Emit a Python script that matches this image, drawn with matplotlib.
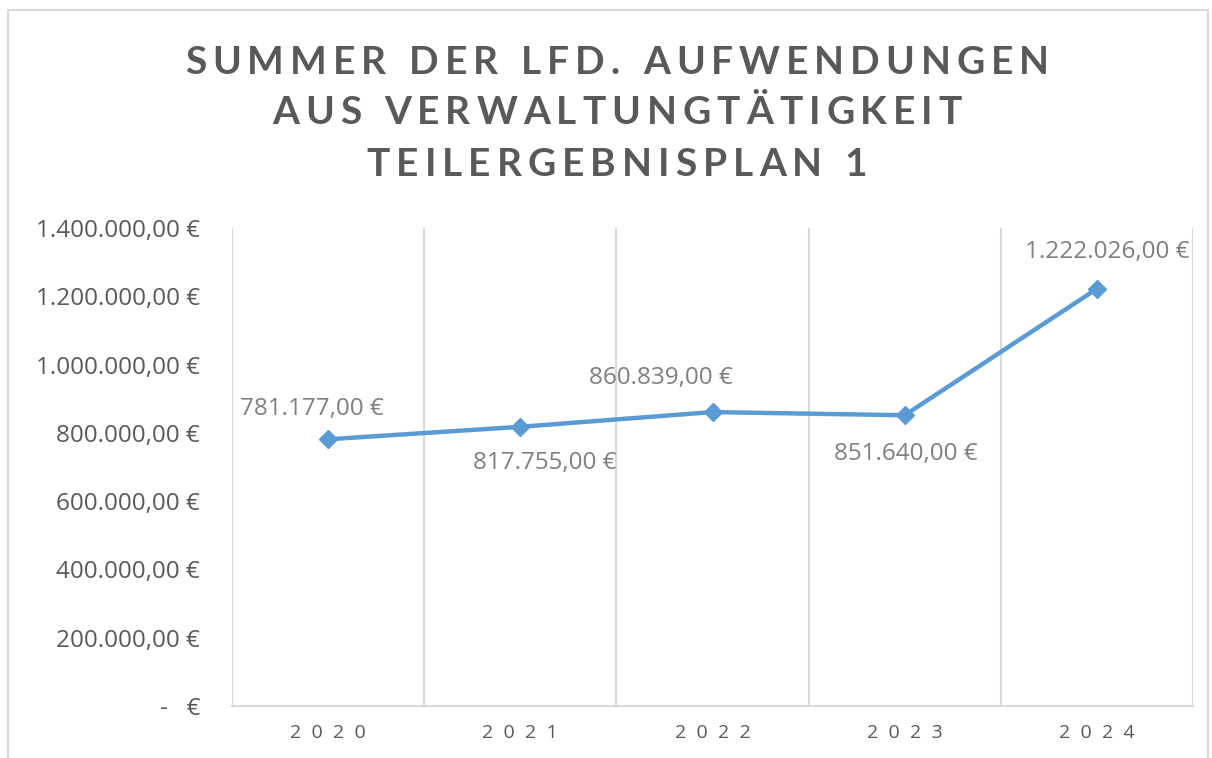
import matplotlib
matplotlib.use('Agg')
import matplotlib.pyplot as plt
from matplotlib.patches import Rectangle
from matplotlib.ticker import FuncFormatter, FixedLocator

years = ['2020', '2021', '2022', '2023', '2024']
werte = [781177, 817755, 860839, 851640, 1222026]
# label offsets in pixels (dx, dy) relative to each point
label_offsets = [(-16, 30), (24, -36), (-52, 34), (1, -39), (10, 37)]
title_lines = ['SUMMER DER LFD. AUFWENDUNGEN',
               'AUS VERWALTUNGTÄTIGKEIT',
               'TEILERGEBNISPLAN 1']

W, H = 1212, 758


def euro(v, pos=None):
    if v == 0:
        return '-   €'
    s = f'{v:,.2f}'
    s = s.replace(',', 'X').replace('.', ',').replace('X', '.')
    return s + ' €'


fig = plt.figure(figsize=(W / 100, H / 100), dpi=100)
fig.patch.set_facecolor('white')

# outer chart border
fig.patches.append(Rectangle((8 / W, -0.01), (1208 - 8) / W, 1 - 10 / H + 0.01,
                             transform=fig.transFigure, fill=False,
                             edgecolor='#D9D9D9', linewidth=1.5))

ax = fig.add_axes([232 / W, 1 - 706 / H, (1193 - 232) / W, (706 - 228) / H])
x = list(range(len(years)))
ax.plot(x, werte, color='#5B9BD5', linewidth=3.2, marker='D', markersize=9,
        solid_capstyle='round', zorder=3)

for i, v in enumerate(werte):
    dx, dy = label_offsets[i]
    ax.annotate(euro(v), (i, v), xytext=(dx, dy), textcoords='offset pixels',
                ha='center', va='center', fontsize=17.5, color='#7F7F7F',
                family='Open Sans')

ax.set_xlim(-0.5, 4.5)
ax.set_ylim(0, 1400000)
ax.yaxis.set_major_locator(FixedLocator(range(0, 1400001, 200000)))
ax.yaxis.set_major_formatter(FuncFormatter(euro))
ax.set_xticks(x)
ax.set_xticklabels(['  '.join(y) for y in years])
ax.xaxis.set_minor_locator(FixedLocator([i - 0.5 for i in range(6)]))
ax.grid(axis='x', which='minor', color='#D9D9D9', linewidth=1.5)
ax.tick_params(axis='both', which='both', length=0)
ax.tick_params(axis='y', labelsize=17.5, labelcolor='#595959', pad=23)
ax.tick_params(axis='x', labelsize=14, labelcolor='#595959', pad=13)
for lab in ax.get_yticklabels() + ax.get_xticklabels():
    lab.set_family('Open Sans')
for s in ['top', 'left', 'right']:
    ax.spines[s].set_visible(False)
ax.spines['bottom'].set_color('#D9D9D9')
ax.spines['bottom'].set_linewidth(1.5)

# title with letter spacing, drawn char by char
renderer = fig.canvas.get_renderer()
tracking = 6
space_w = 11
line_y = [62, 113, 165]
cx = 617
for line, yy in zip(title_lines, line_y):
    widths = []
    for ch in line:
        if ch == ' ':
            widths.append(space_w)
            continue
        t = fig.text(0, 0, ch, fontsize=28, fontweight='bold', family='Lato')
        widths.append(t.get_window_extent(renderer).width)
        t.remove()
    total = sum(widths) + tracking * (len(line) - 1)
    xpos = cx - total / 2
    for ch, w in zip(line, widths):
        if ch != ' ':
            fig.text(xpos / W, 1 - yy / H, ch, fontsize=28, fontweight='bold',
                     family='Lato', color='#595959', ha='left', va='center')
        xpos += w + tracking

fig.savefig('out.png', dpi=100)
